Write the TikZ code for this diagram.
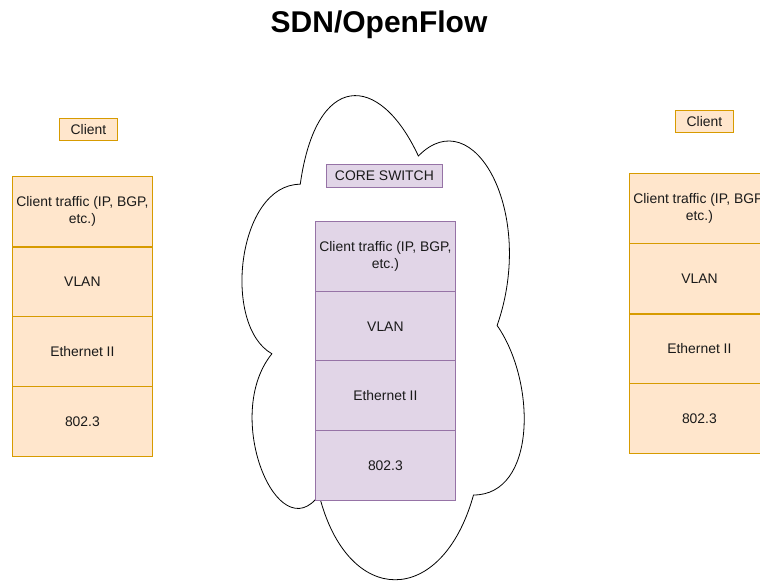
\documentclass[tikz,border=0pt]{standalone}
\usepackage{fontspec}
\setmainfont{Liberation Sans}
\definecolor{orfill}{HTML}{FFE6CC}
\definecolor{ordraw}{HTML}{D79B00}
\definecolor{pufill}{HTML}{E1D5E7}
\definecolor{pudraw}{HTML}{9673A6}
\definecolor{txt}{HTML}{1A1A1A}
\tikzset{
  layer/.style={draw, line width=0.8pt, minimum width=140pt, minimum height=70pt,
    inner sep=0pt, anchor=north west, align=center, text=txt,
    font=\fontsize{13.9}{16.5}\selectfont},
  orlayer/.style={layer, fill=orfill, draw=ordraw},
  pulayer/.style={layer, fill=pufill, draw=pudraw},
  tag/.style={draw, line width=0.8pt, inner sep=0pt, anchor=north west, text=txt,
    font=\fontsize{13.9}{16.5}\selectfont},
}
\begin{document}
\begin{tikzpicture}[x=1pt, y=-1pt]
\clip (0,0) rectangle (760,581);
\fill[white] (0,0) rectangle (760,581);

% title
\node[font=\bfseries\fontsize{30}{36}\selectfont] (title) at (379,25) {SDN/OpenFlow};

% cloud around the core switch
\begin{scope}[shift={(221.5,43)}, x=315pt, y=-565pt]
\draw[fill=white, line width=0.8pt] (0.25,0.25)
  .. controls (0.05,0.25) and (0,0.5) .. (0.16,0.55)
  .. controls (0,0.66) and (0.18,0.9) .. (0.31,0.8)
  .. controls (0.4,1) and (0.7,1) .. (0.8,0.8)
  .. controls (1,0.8) and (1,0.6) .. (0.875,0.5)
  .. controls (1,0.3) and (0.8,0.1) .. (0.625,0.2)
  .. controls (0.5,0.05) and (0.3,0.05) .. (0.25,0.25) -- cycle;
\end{scope}

% left client stack
\node[tag, fill=orfill, draw=ordraw, minimum width=58pt, minimum height=22pt] (lclient) at (59,118) {Client};
\node[orlayer] (l1) at (12,176) {Client traffic (IP, BGP,\\etc.)};
\node[orlayer] (l2) at (12,246) {VLAN};
\node[orlayer] (l3) at (12,316) {Ethernet II};
\node[orlayer] (l4) at (12,386) {802.3};
\draw[ordraw, line width=1.4pt] (l1.south west) -- (l1.south east);

% core switch stack
\node[tag, fill=pufill, draw=pudraw, minimum width=116pt, minimum height=23pt] (core) at (326,164) {CORE SWITCH};
\node[pulayer] (c1) at (315,221) {Client traffic (IP, BGP,\\etc.)};
\node[pulayer] (c2) at (315,291) {VLAN};
\node[pulayer] (c3) at (315,360) {Ethernet II};
\node[pulayer] (c4) at (315,430) {802.3};

% right client stack
\node[tag, fill=orfill, draw=ordraw, minimum width=58pt, minimum height=22pt] (rclient) at (675,110) {Client};
\node[orlayer] (r1) at (629,173) {Client traffic (IP, BGP,\\etc.)};
\node[orlayer] (r2) at (629,243) {VLAN};
\node[orlayer] (r3) at (629,313) {Ethernet II};
\node[orlayer] (r4) at (629,383) {802.3};
\draw[ordraw, line width=1.4pt] (r2.south west) -- (r2.south east);
\end{tikzpicture}
\end{document}
